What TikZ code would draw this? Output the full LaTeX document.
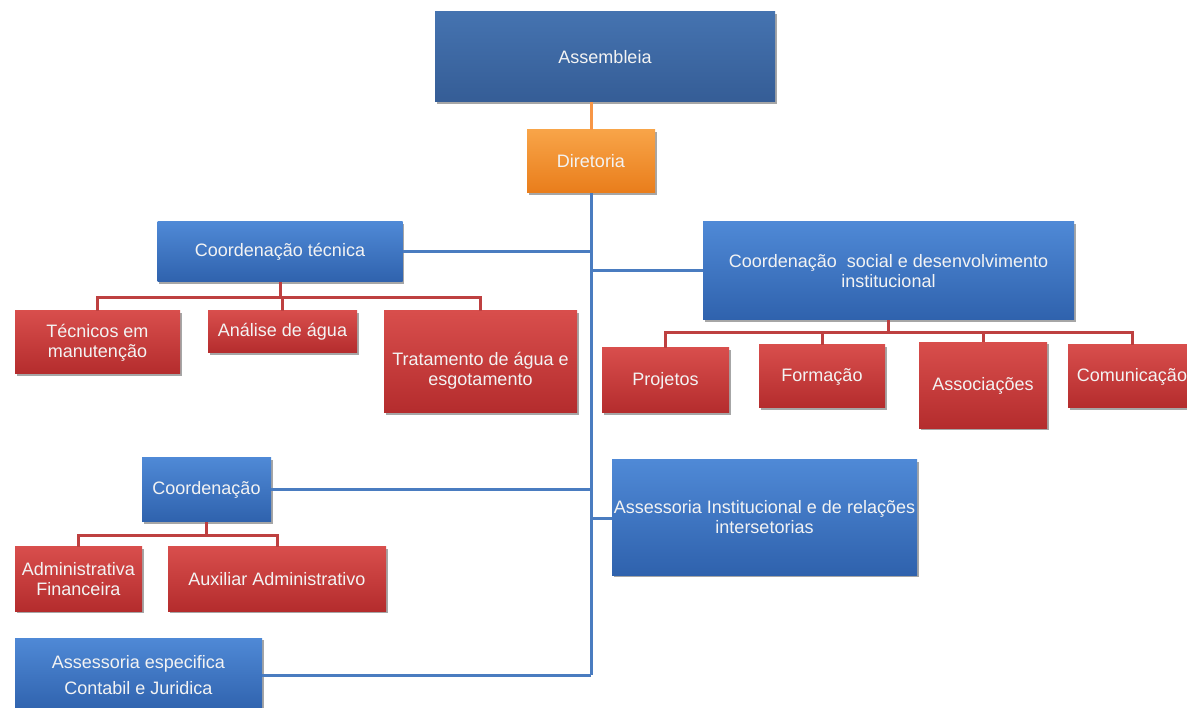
\documentclass[tikz,border=0pt]{standalone}
\usepackage{fontspec}
\setmainfont{Liberation Sans}
\usetikzlibrary{shadows}
\definecolor{asmtop}{HTML}{4573B0}
\definecolor{asmbot}{HTML}{355D96}
\definecolor{bluetop}{HTML}{4F89D6}
\definecolor{bluebot}{HTML}{2F62AD}
\definecolor{redtop}{HTML}{D84E4C}
\definecolor{redbot}{HTML}{B42C2D}
\definecolor{ortop}{HTML}{F8A448}
\definecolor{orbot}{HTML}{E97D1B}
\definecolor{linkblue}{HTML}{4A7CC0}
\definecolor{linkred}{HTML}{BE4040}
\definecolor{linkorange}{HTML}{F79646}
\definecolor{boxtext}{HTML}{F3F3F3}
\begin{document}
\begin{tikzpicture}[x=1pt,y=-1pt,
  box/.style={draw=none, inner sep=0pt, align=center, text=boxtext,
    font=\fontsize{18pt}{20pt}\selectfont,
    drop shadow={shadow xshift=1.5pt, shadow yshift=-2pt, opacity=0.35, fill=black}},
  darkbox/.style={box, top color=asmtop, bottom color=asmbot},
  bluebox/.style={box, top color=bluetop, bottom color=bluebot},
  redbox/.style={box, top color=redtop, bottom color=redbot},
  orangebox/.style={box, top color=ortop, bottom color=orbot},
  boxlabel/.style={inner sep=0pt, align=center, text=boxtext, font=\fontsize{18pt}{20pt}\selectfont},
  blueline/.style={draw=linkblue, line width=3pt},
  redline/.style={draw=linkred, line width=3pt},
  orangeline/.style={draw=linkorange, line width=3pt}]
\fill[white] (0,0) rectangle (1187,708);
\useasboundingbox (0,0) rectangle (1187,708);

% connectors first (behind boxes)
\coordinate (busct) at (0,298);
\coordinate (buscs) at (0,333);
\coordinate (busco) at (0,536);

% boxes
\node[darkbox, minimum width=340pt, minimum height=90pt] (asm) at (605,57) {Assembleia};
\node[orangebox, minimum width=128pt, minimum height=63pt] (dir) at (591,161.5) {Diretoria};

\node[bluebox, minimum width=245pt, minimum height=60pt] (ct) at (280,252) {Coordenação técnica};
\node[redbox, minimum width=165pt, minimum height=63pt] (tec) at (97.5,342.5) {Técnicos em\\manutenção};
\node[redbox, minimum width=149pt, minimum height=42pt] (ana) at (282.5,332) {Análise de água};
\node[redbox, minimum width=193pt, minimum height=102pt] (tra) at (480.5,362) {};
\node[boxlabel] (tra-t) at (480.5,371) {Tratamento de água e\\esgotamento};

\node[bluebox, minimum width=371pt, minimum height=98pt] (cs) at (888.5,271) {Coordenação\ \ social e desenvolvimento\\institucional};
\node[redbox, minimum width=127pt, minimum height=65pt] (proj) at (665.5,380.5) {Projetos};
\node[redbox, minimum width=126pt, minimum height=63pt] (form) at (822,376.5) {Formação};
\node[redbox, minimum width=128pt, minimum height=86pt] (assoc) at (983,385.5) {Associações};
\node[redbox, minimum width=128pt, minimum height=63pt] (com) at (1132,376.5) {Comunicação};

\node[bluebox, minimum width=305pt, minimum height=115pt] (ai) at (764.5,517.5) {Assessoria Institucional e de relações\\intersetorias};

\node[bluebox, minimum width=129pt, minimum height=64pt] (co) at (206.5,490) {Coordenação};
\node[redbox, minimum width=127pt, minimum height=64pt] (adm) at (78.5,579) {Administrativa\\Financeira};
\node[redbox, minimum width=218pt, minimum height=64pt] (aux) at (277,579) {Auxiliar Administrativo};

\node[bluebox, minimum width=247pt, minimum height=74pt] (aes) at (138.5,675) {Assessoria especifica\\[6pt]Contabil e Juridica};

% connectors
\begin{scope}[on background layer/.try]
\end{scope}
\draw[orangeline] (dir.north) -- (dir.north |- asm.south);
\draw[blueline] (dir.south) -- (dir.south |- aes.east);
\draw[blueline] (ct.east) -- (ct.east -| dir.south);
\draw[blueline] (cs.west) -- (cs.west -| dir.south);
\draw[blueline] (co.east) -- (co.east -| dir.south);
\draw[blueline] (ai.west |- 0,519) -- (dir.south |- 0,519);
\draw[blueline] (aes.east) -- (aes.east -| dir.south);

\draw[redline] (ct.south) -- (ct.south |- busct);
\draw[redline] (tec.north) |- (busct -| tra.north) -- (tra.north);
\draw[redline] (ana.north) -- (ana.north |- busct);

\draw[redline] (cs.south) -- (cs.south |- buscs);
\draw[redline] (proj.north) |- (buscs -| com.north) -- (com.north);
\draw[redline] (form.north) -- (form.north |- buscs);
\draw[redline] (assoc.north) -- (assoc.north |- buscs);

\draw[redline] (co.south) -- (co.south |- busco);
\draw[redline] (adm.north) |- (busco -| aux.north) -- (aux.north);
\end{tikzpicture}
\end{document}
